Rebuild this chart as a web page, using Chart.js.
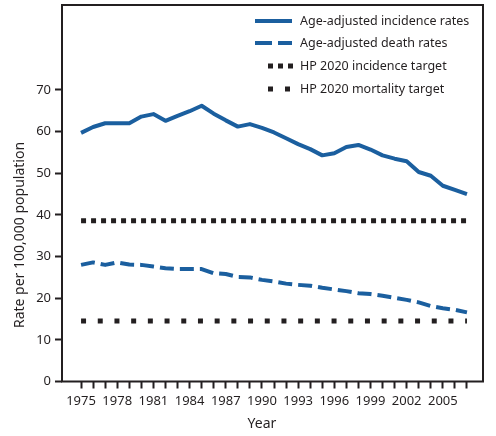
<!DOCTYPE html>
<html>
<head>
<meta charset="utf-8">
<script src="https://cdn.jsdelivr.net/npm/chart.js@4/dist/chart.umd.min.js"></script>
<style>
  html, body { margin: 0; padding: 0; background: #fff; }
  #wrap { width: 496px; height: 436px; }
</style>
</head>
<body>
<div id="wrap"><canvas id="chart" width="496" height="436"></canvas></div>
<script>
// Datos
const years = [];
for (let y = 1975; y <= 2007; y++) years.push(y);

const incidence = [59.7, 61.1, 62.0, 62.0, 62.0, 63.6, 64.2, 62.6, 63.8, 64.9,
	66.2, 64.3, 62.7, 61.2, 61.8, 60.9, 59.8, 58.4, 57.0, 55.8,
	54.3, 54.8, 56.3, 56.8, 55.7, 54.3, 53.5, 52.9, 50.3, 49.4,
	47.0, 46.0, 45.0];

const deaths = [28.0, 28.6, 28.0, 28.6, 28.1, 28.0, 27.6, 27.2, 27.0, 27.0,
	27.0, 26.0, 25.8, 25.1, 25.0, 24.4, 24.0, 23.5, 23.2, 23.0,
	22.5, 22.1, 21.7, 21.2, 21.0, 20.6, 20.1, 19.6, 19.0, 18.1,
	17.6, 17.2, 16.6];

const incidenceTarget = 38.6;
const mortalityTarget = 14.5;

const yTicks = [0, 10, 20, 30, 40, 50, 60, 70];
const yearLabels = [1975, 1978, 1981, 1984, 1987, 1990, 1993, 1996, 1999, 2002, 2005];

const labels = ['Age-adjusted incidence rates', 'Age-adjusted death rates',
	'HP 2020 incidence target', 'HP 2020 mortality target'];

const blue = '#1b5f9f';
const ink = '#231f20';
const font = '"Noto Sans", "DejaVu Sans", sans-serif';

const toPoints = (vals) => years.map((y, i) => ({ x: y, y: vals[i] }));
const flat = (v) => years.map((y) => ({ x: y, y: v }));

// Marco, leyenda y títulos de ejes
const extras = {
	id: 'extras',
	afterDraw(chart) {
		const { ctx, chartArea: a } = chart;
		ctx.save();
		ctx.strokeStyle = ink;
		ctx.lineWidth = 2;
		ctx.strokeRect(a.left, a.top, a.right - a.left, a.bottom - a.top);

		// Leyenda
		const rows = [21, 43, 66, 89];
		const samples = [
			{ x0: 255, x1: 292, dash: [], width: 4, color: blue },
			{ x0: 255, x1: 292, dash: [17, 6], width: 4, color: blue },
			{ x0: 268, x1: 293, dash: [5, 5], width: 5, color: ink },
			{ x0: 268, x1: 290, dash: [5, 12], width: 5, color: ink }
		];
		samples.forEach((s, i) => {
			ctx.beginPath();
			ctx.setLineDash(s.dash);
			ctx.lineWidth = s.width;
			ctx.strokeStyle = s.color;
			ctx.lineCap = 'butt';
			ctx.moveTo(s.x0, rows[i]);
			ctx.lineTo(s.x1, rows[i]);
			ctx.stroke();
		});
		ctx.setLineDash([]);
		ctx.fillStyle = ink;
		ctx.font = '12.5px ' + font;
		ctx.textBaseline = 'middle';
		ctx.textAlign = 'left';
		labels.forEach((t, i) => ctx.fillText(t, 300, rows[i]));

		// Títulos
		ctx.font = '14px ' + font;
		ctx.textAlign = 'center';
		ctx.fillText('Year', 262, 424);
		ctx.translate(20, 235);
		ctx.rotate(-Math.PI / 2);
		ctx.fillText('Rate per 100,000 population', 0, 0);
		ctx.restore();
	}
};

const chart = new Chart(document.getElementById('chart'), {
	type: 'line',
	data: {
		datasets: [
			{ label: labels[0], data: toPoints(incidence), borderColor: blue, borderWidth: 4 },
			{ label: labels[1], data: toPoints(deaths), borderColor: blue, borderWidth: 4, borderDash: [14, 6] },
			{ label: labels[2], data: flat(incidenceTarget), borderColor: ink, borderWidth: 5, borderDash: [5, 5] },
			{ label: labels[3], data: flat(mortalityTarget), borderColor: ink, borderWidth: 5, borderDash: [5, 11.7] }
		]
	},
	options: {
		responsive: false,
		animation: false,
		layout: { padding: { left: 0, right: 13, top: 5, bottom: 0 } },
		elements: { point: { radius: 0 }, line: { tension: 0, borderJoinStyle: 'round' } },
		plugins: { legend: { display: false }, tooltip: { enabled: false } },
		scales: {
			x: {
				type: 'linear',
				min: 1973.42,
				max: 2008.33,
				afterFit: (s) => { s.height = 54.5; s.paddingLeft = 0; s.paddingRight = 0; },
				afterBuildTicks: (s) => { s.ticks = years.map((v) => ({ value: v })); },
				grid: { drawOnChartArea: false, tickLength: 7, tickWidth: 2, color: ink },
				border: { display: false },
				ticks: {
					autoSkip: false,
					maxRotation: 0,
					padding: 5,
					color: ink,
					font: { family: font, size: 13 },
					callback: (v) => (yearLabels.includes(v) ? String(v) : '')
				}
			},
			y: {
				min: 0,
				max: 90.4,
				afterFit: (s) => { s.width = 62; s.paddingTop = 0; s.paddingBottom = 0; },
				afterBuildTicks: (s) => { s.ticks = yTicks.map((v) => ({ value: v })); },
				grid: { drawOnChartArea: false, tickLength: 7, tickWidth: 2, color: ink },
				border: { display: false },
				ticks: {
					padding: 4,
					color: ink,
					font: { family: font, size: 13 }
				}
			}
		}
	},
	plugins: [extras]
});
</script>
</body>
</html>
